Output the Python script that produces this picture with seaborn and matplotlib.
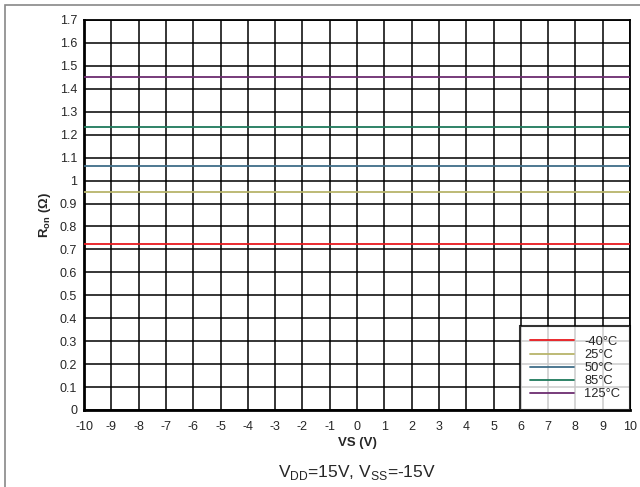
import pandas as pd
import matplotlib.pyplot as plt
import seaborn as sns
from matplotlib.patches import Rectangle

# data
vs = [-10, -5, 0, 5, 10]
temps = ['-40°C', '25°C', '50°C', '85°C', '125°C']
ron = [0.722, 0.95, 1.062, 1.234, 1.45]
colors = ['#e8191f', '#b8b46a', '#3f6d88', '#1f7a5c', '#6c2c70']

rows = []
for t, r in zip(temps, ron):
    for v in vs:
        rows.append({'VS': v, 'Ron': r, 'Temp': t})
df = pd.DataFrame(rows)

sns.set_style('white')
plt.rcParams['font.family'] = ['Liberation Sans', 'DejaVu Sans']
plt.rcParams['mathtext.fontset'] = 'custom'
plt.rcParams['mathtext.rm'] = 'Liberation Sans'
plt.rcParams['axes.unicode_minus'] = False

fig = plt.figure(figsize=(6.4, 4.87), dpi=100)
ax = fig.add_axes([84/640, 1-410/487, (630-84)/640, (410-20)/487])

sns.lineplot(data=df, x='VS', y='Ron', hue='Temp', hue_order=temps,
             palette=colors, linewidth=1.3, ax=ax, zorder=3)

ax.set_xlim(-10, 10)
ax.set_ylim(0, 1.7)
ax.set_xticks(range(-10, 11))
ax.set_yticks([i/10 for i in range(18)])
ax.set_yticklabels(['0' if i == 0 else ('1' if i == 10 else '%.1f' % (i/10)) for i in range(18)])
ax.grid(True, color='black', linewidth=1.1)
ax.tick_params(length=0, labelsize=9)
ax.tick_params(axis='x', pad=8)
ax.tick_params(axis='y', pad=5)
for s in ax.spines.values():
    s.set_color('black')
    s.set_linewidth(1.3)
ax.spines['left'].set_linewidth(2)
ax.spines['bottom'].set_linewidth(2)

ax.set_xlabel('VS (V)', fontsize=9.5, fontweight='bold', labelpad=2.5)
ax.set_ylabel(r'R$_{\mathregular{on}}$ ($\mathregular{\Omega}$)', fontsize=9.5, fontweight='bold', labelpad=5)

leg = ax.legend(loc='lower right', fontsize=9.3, frameon=True, fancybox=False,
                borderaxespad=0, handlelength=3.4, labelspacing=0.08,
                borderpad=0.75, handletextpad=0.8)
leg.get_frame().set_edgecolor('black')
leg.get_frame().set_linewidth(1.5)
leg.set_title(None)

fig.text(357/640, 1-472/487, r'V$_{\mathregular{DD}}$=15V, V$_{\mathregular{SS}}$=-15V',
         ha='center', va='center', fontsize=12.5)

fig.patches.append(Rectangle((4.5/640, -0.1), 1.2, 1.1 - 4.5/487, transform=fig.transFigure,
                             fill=False, edgecolor='#888888', linewidth=1.2))

plt.savefig('out.png', dpi=100)
